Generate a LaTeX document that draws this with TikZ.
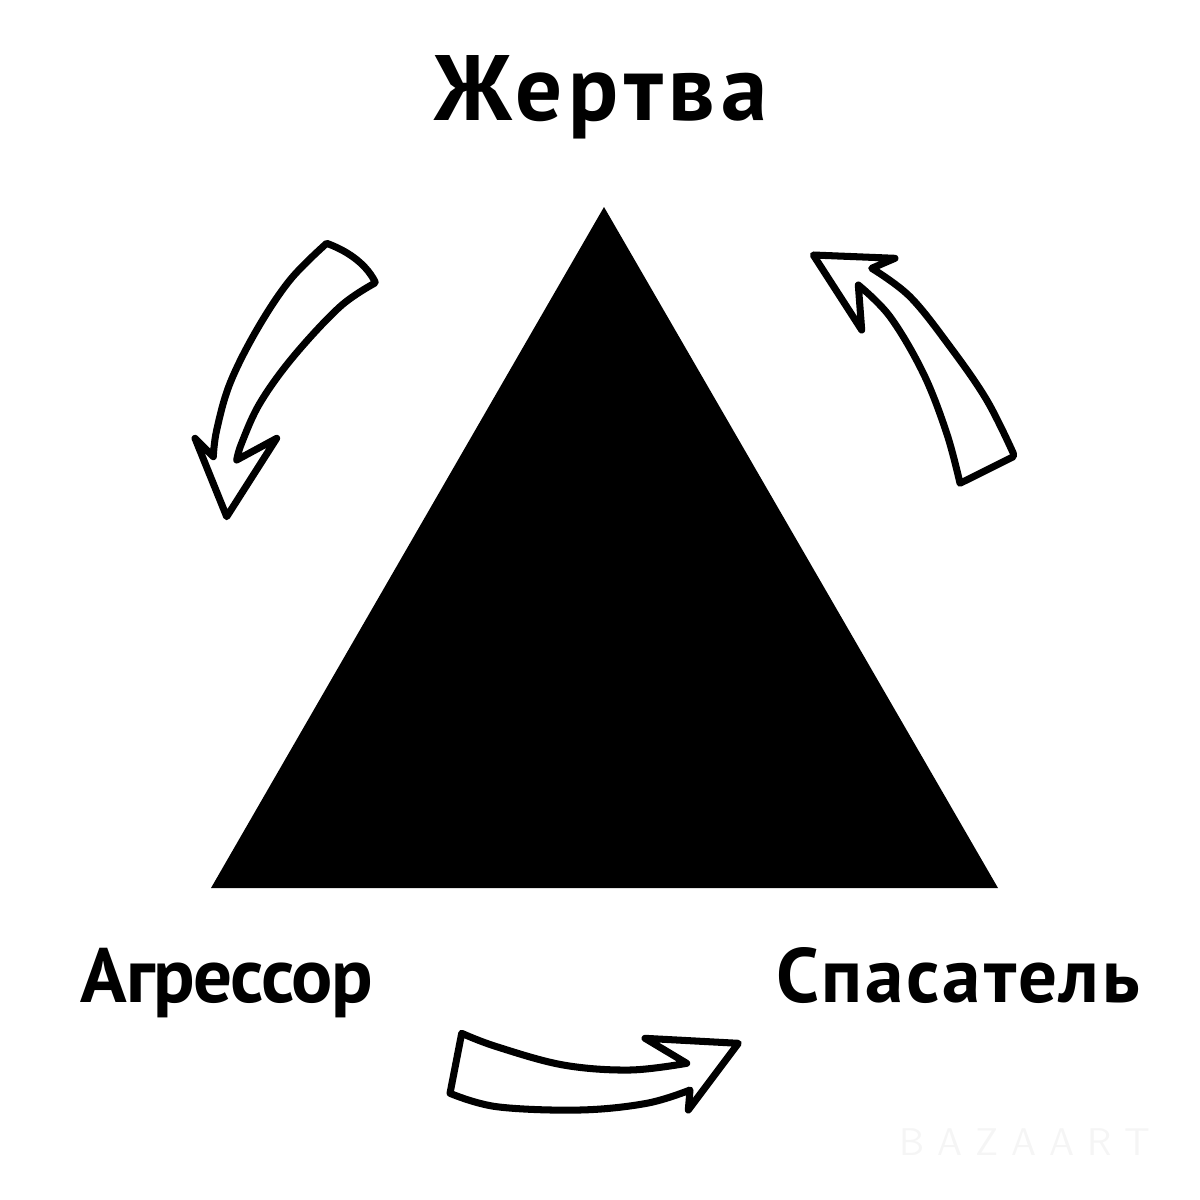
\documentclass[tikz,border=0pt]{standalone}
\usepackage{fontspec}
\setmainfont{PT Sans}
\begin{document}
\begin{tikzpicture}[x=0.01cm,y=-0.01cm,
  lbl/.style={inner sep=0pt, anchor=base},
  sketch/.style={line width=2pt, line join=round, line cap=round, fill=white}]
\useasboundingbox (0,0) rectangle (1200,1200);
% triangle
\fill[black] (604,207) -- (998,888) -- (211,888) -- cycle;
% labels
\node[lbl, font=\bfseries\fontsize{26.4}{30}\selectfont\addfontfeature{LetterSpace=6.5}] (victim) at (601,120) {Жертва};
\node[lbl, font=\bfseries\fontsize{21.9}{26}\selectfont\addfontfeature{LetterSpace=-2}] (aggr) at (227,1002) {Агрессор};
\node[lbl, font=\bfseries\fontsize{21.9}{26}\selectfont\addfontfeature{LetterSpace=3.7}] (saver) at (958,1002) {Спасатель};
\node[font=\sffamily\fontsize{11}{12}\selectfont, text=black!4, anchor=base] (wm) at (1025,1155) {B\,\,A\,\,Z\,\,A\,\,A\,\,R\,\,T};
% left arrow (down)
\draw[sketch] (326.7,243.3) .. controls (345,250) and (365,262) .. (375,281.7)
  -- plot[smooth, tension=0.6] coordinates {(375,283) (340,306.7) (293.3,356.7) (260,403) (241.7,443) (236.7,460)}
  -- (276.7,438.3) -- (226.7,516.7) -- (195,438.3) -- (213.3,456.7)
  -- plot[smooth, tension=0.6] coordinates {(213.3,456.7) (216.7,430) (230,383.3) (256.7,330) (290,280) (326.7,243.3)}
  -- cycle;
% right arrow (up)
\draw[sketch] (813.3,255) -- (895,258.3) -- (871.7,268.3)
  -- plot[smooth, tension=0.6] coordinates {(871.7,268.3) (910,296.7) (950,346.7) (986.7,400) (1013.3,453.3)}
  -- (1013.3,456.7) -- (960,483.3)
  -- plot[smooth, tension=0.6] coordinates {(960,483.3) (946.7,433.3) (923.3,373.3) (890,316.7) (858.3,285)}
  -- (861.7,330) -- cycle;
% bottom arrow (right)
\draw[sketch] (461.7,1033.3) -- (450,1093.3)
  -- plot[smooth, tension=0.6] coordinates {(450,1093.3) (496.7,1106.7) (580,1110) (646.7,1103.3) (690,1090)}
  -- (688.3,1110) -- (738.3,1043.3) -- (645,1038.3) -- (686.7,1063.3)
  -- plot[smooth, tension=0.6] coordinates {(686.7,1063.3) (630,1070) (563.3,1065) (496.7,1046.7) (461.7,1033.3)}
  -- cycle;
\end{tikzpicture}
\end{document}
